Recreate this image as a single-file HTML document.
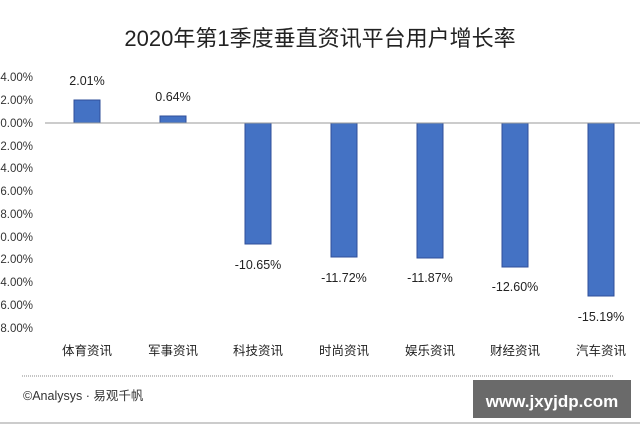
<!DOCTYPE html>
<html><head><meta charset="utf-8"><style>
body{margin:0;width:640px;height:427px;background:#fff;overflow:hidden;font-family:"Liberation Sans","Noto Sans CJK SC",sans-serif;}
</style></head><body>
<svg width="640" height="427" xmlns="http://www.w3.org/2000/svg" font-family="Liberation Sans, Noto Sans CJK SC, sans-serif">
<text x="320" y="46" font-size="22" text-anchor="middle" fill="#222">2020年第1季度垂直资讯平台用户增长率</text>
<g font-size="11.5" fill="#333" text-anchor="end">
<text x="33" y="81">4.00%</text><text x="33" y="104">2.00%</text><text x="33" y="127">0.00%</text>
<text x="33" y="150">2.00%</text><text x="33" y="172">4.00%</text><text x="33" y="195">6.00%</text>
<text x="33" y="218">8.00%</text><text x="33" y="241">0.00%</text><text x="33" y="263">2.00%</text>
<text x="33" y="286">4.00%</text><text x="33" y="309">6.00%</text><text x="33" y="332">8.00%</text>
</g>
<g fill="#4472c4" stroke="#2f4f9a" stroke-width="1">
<rect x="74" y="100" width="26" height="23"/>
<rect x="160" y="116" width="26" height="7"/>
<rect x="245" y="123" width="26" height="121"/>
<rect x="331" y="123" width="26" height="134"/>
<rect x="417" y="123" width="26" height="135"/>
<rect x="502" y="123" width="26" height="144"/>
<rect x="588" y="123" width="26" height="173"/>
</g>
<line x1="45" y1="123" x2="640" y2="123" stroke="#999" stroke-width="1"/>
<g font-size="12.5" fill="#222" text-anchor="middle">
<text x="87" y="85">2.01%</text><text x="173" y="101">0.64%</text>
<text x="258" y="269">-10.65%</text><text x="344" y="282">-11.72%</text>
<text x="430" y="282">-11.87%</text><text x="515" y="291">-12.60%</text>
<text x="601" y="321">-15.19%</text>
</g>
<g font-size="12.5" fill="#222" text-anchor="middle">
<text x="87" y="355">体育资讯</text><text x="173" y="355">军事资讯</text><text x="258" y="355">科技资讯</text>
<text x="344" y="355">时尚资讯</text><text x="430" y="355">娱乐资讯</text><text x="515" y="355">财经资讯</text>
<text x="601" y="355">汽车资讯</text>
</g>
<line x1="22" y1="376" x2="613" y2="376" stroke="#888" stroke-width="1" stroke-dasharray="1,1"/>
<text x="23" y="400" font-size="12.5" fill="#333">©Analysys · 易观千帆</text>
<rect x="473" y="380" width="158" height="38" fill="#6a6a6a"/>
<text x="552" y="407" font-size="17" font-weight="bold" fill="#fff" text-anchor="middle">www.jxyjdp.com</text>
<line x1="0" y1="423" x2="640" y2="423" stroke="#999" stroke-width="1"/>
</svg>
</body></html>
